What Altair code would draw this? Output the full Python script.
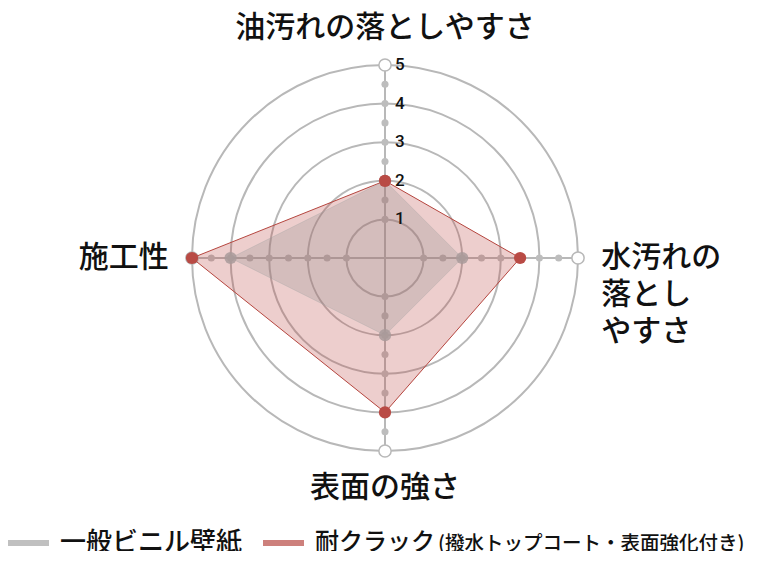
import altair as alt
import pandas as pd
import numpy as np

# ---- data ----
categories = ["油汚れの落としやすさ", "水汚れの\n落とし\nやすさ", "表面の強さ", "施工性"]
series_names = ["一般ビニル壁紙", "耐クラック"]
series_suffix = "(撥水トップコート・表面強化付き)"
gray_values = [2, 2, 2, 4]
red_values = [2, 3.5, 4, 5]
grid_levels = [1, 2, 3, 4, 5]
tick_labels = ["1", "2", "3", "4", "5"]
dot_levels = [1, 1.5, 2, 2.5, 3, 3.5, 4, 4.5]
max_value = 5

GRAY = "#8a8a8a"
RED = "#c0504d"
GRID = "#b8b8b8"
FONT = "Noto Sans CJK JP"

n = len(categories)
theta = [2 * np.pi * i / n for i in range(n)]
sides = ["top", "right", "bottom", "left"]

def polar(r, t):
    return r * np.sin(t), r * np.cos(t)

# polygons
poly_rows = []
for s, vals in zip(series_names, [gray_values, red_values]):
    for k in range(n + 1):
        i = k % n
        x, y = polar(vals[i], theta[i])
        poly_rows.append({"series": s, "order": k, "x": x, "y": y, "v": vals[i], "cat": categories[i]})
poly = pd.DataFrame(poly_rows)

axes_rows = []
for i in range(n):
    x2, y2 = polar(max_value, theta[i])
    axes_rows.append({"x": 0.0, "y": 0.0, "x2": x2, "y2": y2})
axes_df = pd.DataFrame(axes_rows)

dot_rows = []
for i in range(n):
    for lv in dot_levels:
        x, y = polar(lv, theta[i])
        dot_rows.append({"x": x, "y": y})
dots_df = pd.DataFrame(dot_rows)

end_rows = []
for i in range(n):
    x, y = polar(max_value, theta[i])
    end_rows.append({"x": x, "y": y})
end_df = pd.DataFrame(end_rows)

grid_df = pd.DataFrame({"r": grid_levels})
ticks_df = pd.DataFrame({"x": [0.0] * len(grid_levels), "y": grid_levels, "label": tick_labels})

LABEL_R = 5.6
lab_rows = []
for i in range(n):
    x, y = polar(LABEL_R, theta[i])
    lab_rows.append({"x": x, "y": y, "label": categories[i], "side": sides[i]})
lab_df = pd.DataFrame(lab_rows)

# ---- chart ----
R_PX = 193
xs = alt.X("x:Q", scale=alt.Scale(domain=[-max_value, max_value], nice=False, zero=False), axis=None)
ys = alt.Y("y:Q", scale=alt.Scale(domain=[-max_value, max_value], nice=False, zero=False), axis=None)

grid = alt.Chart(grid_df).mark_arc(
    filled=False, color=GRID, strokeWidth=2, theta=0, theta2=2 * np.pi
).encode(
    radius=alt.Radius("r:Q", scale=alt.Scale(type="linear", domain=[0, max_value], range=[0, R_PX], zero=True)),
    radius2=alt.Radius2("r:Q"),
)

axes = alt.Chart(axes_df).mark_rule(color=GRID, strokeWidth=2).encode(
    x=xs, y=ys, x2="x2:Q", y2="y2:Q"
)

dots = alt.Chart(dots_df).mark_circle(size=50, color="#bdbdbd", opacity=1).encode(x=xs, y=ys)

ends = alt.Chart(end_df).mark_point(
    filled=True, fill="white", stroke=GRID, strokeWidth=1.5, size=150, opacity=1
).encode(x=xs, y=ys)

red_poly = alt.Chart(poly[poly.series == series_names[1]]).mark_line(
    fill=RED, fillOpacity=0.28, stroke="#b5453e", strokeWidth=1
).encode(x=xs, y=ys, order="order:Q")

gray_poly = alt.Chart(poly[poly.series == series_names[0]]).mark_line(
    fill=GRAY, fillOpacity=0.25, stroke="#a9a9a9", strokeWidth=0.6, strokeOpacity=0.6
).encode(x=xs, y=ys, order="order:Q")

gray_pts = alt.Chart(poly[(poly.series == series_names[0]) & (poly.order < n)]).mark_circle(
    size=150, color="#a89a9a", opacity=0.85
).encode(x=xs, y=ys)

red_pts = alt.Chart(poly[(poly.series == series_names[1]) & (poly.order < n)]).mark_circle(
    size=150, color="#b94b45", opacity=1
).encode(x=xs, y=ys)

ticks = alt.Chart(ticks_df).mark_text(
    align="left", baseline="middle", dx=10, fontSize=17, font="Roboto", fontWeight=500, color="#111"
).encode(x=xs, y=ys, text="label:N")

def side_text(side, align, dy=0):
    return alt.Chart(lab_df[lab_df.side == side]).mark_text(
        align=align, baseline="middle", dy=dy, fontSize=30, font=FONT, fontWeight=500, color="#111",
        lineBreak="\n", lineHeight=37
    ).encode(x=xs, y=ys, text="label:N")

labels = (side_text("top", "center", -14) + side_text("bottom", "center", 14)
          + side_text("right", "left") + side_text("left", "right"))

# ---- legend (manual) ----
leg_df = pd.DataFrame({"name": series_names})
sw1 = alt.Chart(leg_df.iloc[[0]]).mark_rect(color="#c0c0c0").encode(
    x=alt.value(-184), x2=alt.value(-143), y=alt.value(475), y2=alt.value(481))
sw2 = alt.Chart(leg_df.iloc[[1]]).mark_rect(color="#cd807c").encode(
    x=alt.value(71), x2=alt.value(112), y=alt.value(475), y2=alt.value(481))
t1 = alt.Chart(leg_df.iloc[[0]]).mark_text(
    align="left", baseline="middle", fontSize=26, font=FONT, fontWeight=500, color="#111"
).encode(x=alt.value(-132), y=alt.value(478), text="name:N")
t2 = alt.Chart(leg_df.iloc[[1]]).mark_text(
    align="left", baseline="middle", fontSize=24, font=FONT, fontWeight=500, color="#111"
).encode(x=alt.value(123), y=alt.value(478), text="name:N")
t3 = alt.Chart(pd.DataFrame({"s": [series_suffix]})).mark_text(
    align="left", baseline="middle", fontSize=19.5, font=FONT, fontWeight=500, color="#111"
).encode(x=alt.value(246), y=alt.value(479), text="s:N")

chart = alt.layer(
    grid, axes, dots, ends, red_poly, gray_poly, gray_pts, red_pts, ticks, labels,
    sw1, sw2, t1, t2, t3
).properties(
    width=2 * R_PX, height=2 * R_PX,
    autosize=alt.AutoSizeParams(type="none"),
    padding={"left": 184, "top": 57, "right": 180, "bottom": 100},
).configure_view(stroke=None)

chart.save("out.html", embed_options={"renderer": "svg", "actions": False})
